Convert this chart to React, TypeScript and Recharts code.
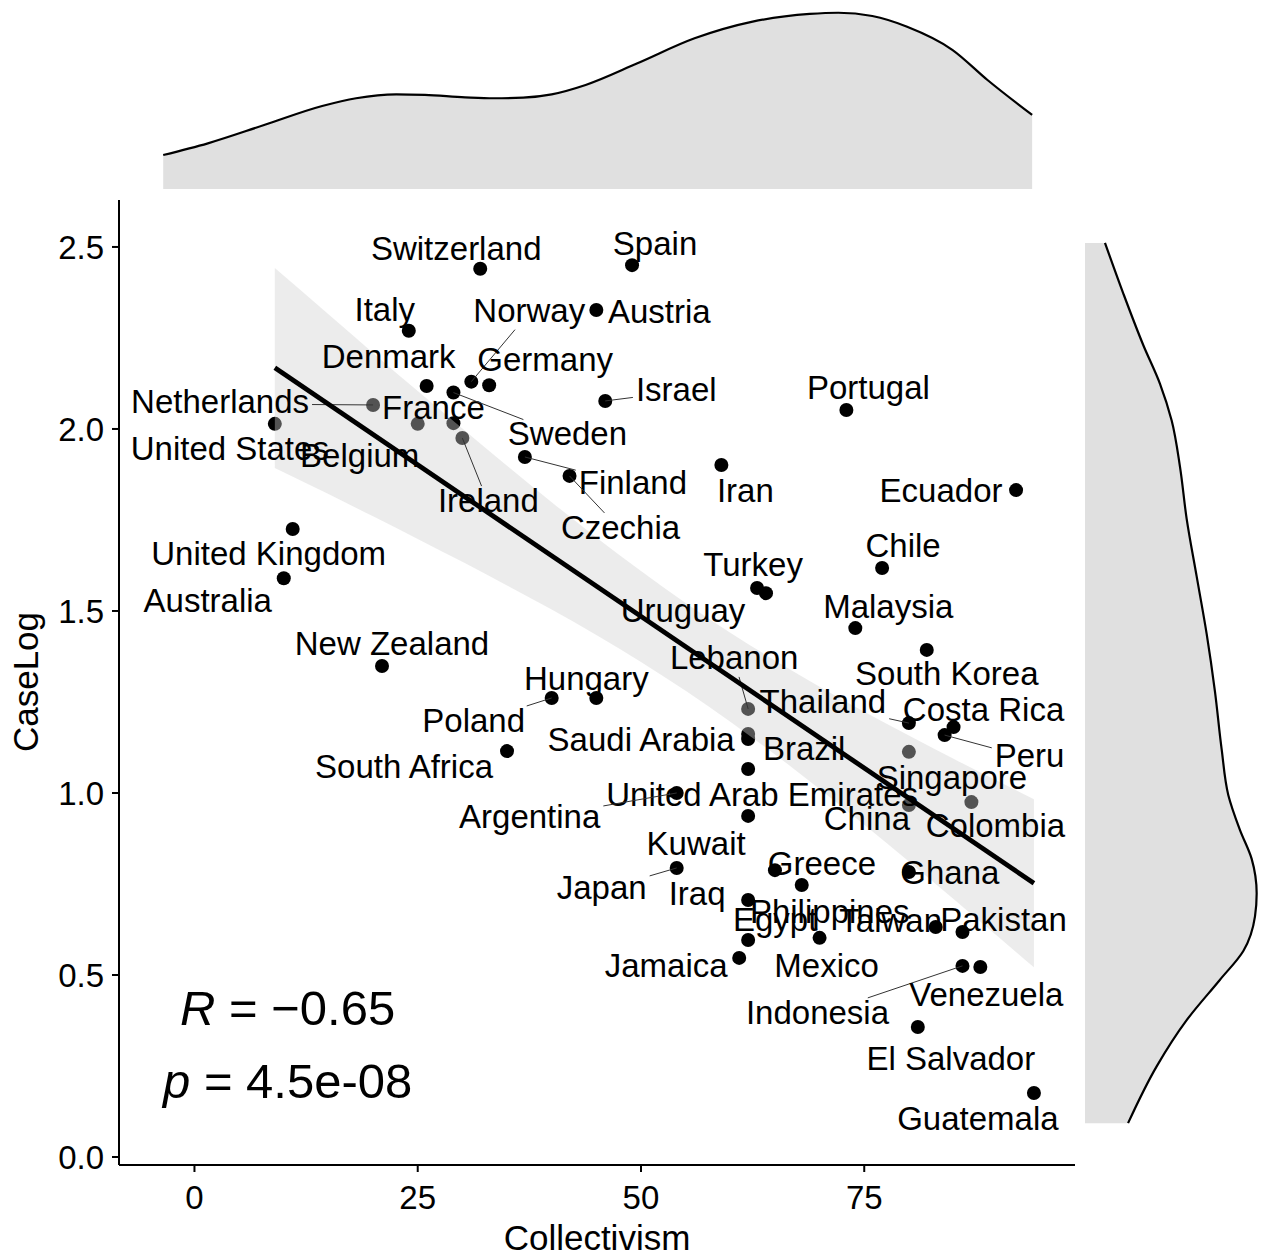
import React from "react";
import { ComposedChart, AreaChart, Area, Line, Scatter, XAxis, YAxis } from "recharts";

// ---- data ----
const countries = [
  "United States", "Netherlands", "Belgium", "France", "Ireland",
  "Switzerland", "Spain", "Italy", "Austria", "Denmark",
  "Sweden", "Norway", "Germany", "Israel", "Portugal",
  "Ecuador", "Finland", "Czechia", "Iran", "United Kingdom",
  "Australia", "Chile", "Turkey", "Uruguay", "Malaysia",
  "New Zealand", "South Korea", "Lebanon", "Poland", "Hungary",
  "Thailand", "Costa Rica", "Peru", "Saudi Arabia", "Brazil",
  "South Africa", "Singapore", "United Arab Emirates", "Argentina", "China",
  "Colombia", "Kuwait", "Greece", "Ghana", "Japan",
  "Iraq", "Philippines", "Egypt", "Taiwan", "Pakistan",
  "Jamaica", "Mexico", "Indonesia", "Venezuela", "El Salvador",
  "Guatemala",
];
const collectivism = [
  9, 20, 25, 29, 30, 32, 49, 24, 45, 26,
  29, 31, 33, 46, 73, 92, 37, 42, 59, 11,
  10, 77, 63, 64, 74, 21, 82, 62, 40, 45,
  80, 85, 84, 62, 62, 35, 80, 62, 54, 80,
  87, 62, 65, 80, 54, 62, 68, 62, 83, 86,
  61, 70, 86, 88, 81, 94,
];
const caseLog = [
  2.014, 2.066, 2.014, 2.016, 1.975, 2.44, 2.45, 2.27, 2.327, 2.118,
  2.1, 2.13, 2.12, 2.077, 2.052, 1.832, 1.923, 1.871, 1.901, 1.725,
  1.59, 1.618, 1.563, 1.549, 1.453, 1.349, 1.393, 1.231, 1.261, 1.261,
  1.192, 1.181, 1.159, 1.162, 1.148, 1.115, 1.113, 1.066, 1.0, 0.967,
  0.975, 0.937, 0.788, 0.783, 0.794, 0.706, 0.747, 0.596, 0.632, 0.618,
  0.547, 0.602, 0.525, 0.522, 0.357, 0.176,
];

// regression line and 95% band
const fitX = [9, 94];
const fitY = [2.168, 0.752];
const bandX = [9, 15, 20, 25, 30, 35, 40, 45, 50, 55, 60, 65, 70, 75, 80, 85, 90, 94];
const bandLow = [1.893, 1.821, 1.76, 1.698, 1.635, 1.57, 1.504, 1.434, 1.36, 1.281, 1.196, 1.106, 1.011, 0.913, 0.812, 0.709, 0.605, 0.521];
const bandHigh = [2.442, 2.315, 2.209, 2.104, 2.001, 1.899, 1.799, 1.702, 1.61, 1.522, 1.44, 1.364, 1.292, 1.223, 1.158, 1.094, 1.032, 0.983];

// marginal densities
const densX = [-3.5, 1.5, 7.8, 14.3, 18.1, 22.6, 25.8, 30.3, 33.5, 36.8, 40.0, 43.8, 49.6, 56.0, 62.5, 68.9, 72.1, 75.9, 79.8, 84.9, 88.8, 93.8];
const densXValue = [0.00279, 0.00375, 0.00525, 0.00681, 0.00745, 0.00777, 0.00772, 0.00753, 0.00745, 0.0075, 0.00777, 0.00854, 0.01032, 0.01237, 0.01374, 0.01437, 0.01447, 0.0142, 0.01332, 0.01141, 0.00895, 0.00608];
const densY = [2.511, 2.372, 2.23, 2.124, 2.023, 1.896, 1.753, 1.595, 1.437, 1.278, 1.12, 0.994, 0.898, 0.819, 0.724, 0.661, 0.566, 0.487, 0.376, 0.249, 0.093];
const densYValue = [0.072, 0.138, 0.21, 0.27, 0.312, 0.342, 0.366, 0.402, 0.438, 0.468, 0.492, 0.516, 0.558, 0.6, 0.618, 0.612, 0.57, 0.486, 0.366, 0.258, 0.155];

const xTicks = [0, 25, 50, 75];
const yTicks = [0, 0.5, 1, 1.5, 2, 2.5];

// ---- layout ----
const W = 1261;
const H = 1256;
const X_DOMAIN: [number, number] = [-8.45, 98.6];
const Y_DOMAIN: [number, number] = [-0.022, 2.629];
const FONT = "'Liberation Sans', Arial, Helvetica, sans-serif";
const LABEL_SIZE = 33;
const TICK_SIZE = 33;

// repelled label offsets (px from the point to the label centre)
const labelNudge: Record<string, [number, number]> = {
  "United States": [-45, 24], Netherlands: [-153, -4], Belgium: [-58, 31], France: [-20, -16],
  Ireland: [26, 62], Switzerland: [-24, -21], Spain: [23, -22], Italy: [-24, -22],
  Austria: [63, 1], Denmark: [-38, -30], Sweden: [114, 41], Norway: [58, -72],
  Germany: [56, -26], Israel: [71, -12], Portugal: [22, -23], Ecuador: [-75, 0],
  Finland: [108, 25], Czechia: [51, 51], Iran: [24, 25], "United Kingdom": [-24, 24],
  Australia: [-76, 22], Chile: [21, -23], Turkey: [-4, -24], Uruguay: [-83, 17],
  Malaysia: [33, -22], "New Zealand": [10, -23], "South Korea": [20, 23], Lebanon: [-14, -52],
  Poland: [-78, 22], Hungary: [-10, -20], Thailand: [-86, -22], "Costa Rica": [30, -18],
  Peru: [85, 20], "Saudi Arabia": [-107, 5], Brazil: [56, 9], "South Africa": [-103, 15],
  Singapore: [43, 25], "United Arab Emirates": [14, 25], Argentina: [-147, 23], China: [-42, 13],
  Colombia: [24, 23], Kuwait: [-52, 27], Greece: [47, -7], Ghana: [41, 0],
  Japan: [-75, 19], Iraq: [-51, -7], Philippines: [28, 26], Egypt: [27, -21],
  Taiwan: [-45, -7], Pakistan: [41, -13], Jamaica: [-73, 7], Mexico: [7, 27],
  Indonesia: [-145, 46], Venezuela: [6, 27], "El Salvador": [33, 31], Guatemala: [-56, 25],
};
const withSegment = [
  "Netherlands", "Ireland", "Sweden", "Norway", "Israel", "Finland", "Czechia",
  "Lebanon", "Poland", "Thailand", "Peru", "Argentina", "Japan", "Indonesia",
];

const points = countries.map((name, i) => ({ name, x: collectivism[i], y: caseLog[i] }));
const bandRows = bandX.map((x, i) => ({ x, band: [bandLow[i], bandHigh[i]] }));
const fitRows = fitX.map((x, i) => ({ x, fit: fitY[i] }));
const topDensity = densX.map((x, i) => ({ x, d: densXValue[i] }));
const rightDensity = densY.map((y, i) => ({ y, d: densYValue[i] }));

let measureCtx: CanvasRenderingContext2D | null = null;
function textWidth(s: string) {
  if (!measureCtx) measureCtx = document.createElement("canvas").getContext("2d");
  if (!measureCtx) return s.length * LABEL_SIZE * 0.55;
  measureCtx.font = `${LABEL_SIZE}px 'Liberation Sans'`;
  return measureCtx.measureText(s).width;
}

const Dot = (props: any) => <circle cx={props.cx} cy={props.cy} r={7} fill="#000" />;

const CountryLabel = (props: any) => {
  const { cx, cy, payload } = props;
  const [dx, dy] = labelNudge[payload.name] ?? [0, -25];
  const lx = cx + dx;
  const ly = cy + dy;
  let seg = null;
  if (withSegment.includes(payload.name)) {
    const hw = textWidth(payload.name) / 2 + 3;
    const hh = 17;
    const bx = lx;
    const by = ly + 3;
    const vx = cx - bx;
    const vy = cy - by;
    const t = Math.min(hw / Math.max(Math.abs(vx), 1e-6), hh / Math.max(Math.abs(vy), 1e-6));
    if (t < 1) {
      seg = <line x1={cx} y1={cy} x2={bx + vx * t} y2={by + vy * t} stroke="#333" strokeWidth={1} />;
    }
  }
  return (
    <g>
      {seg}
      <text x={lx} y={ly} dy="0.36em" textAnchor="middle" fontSize={LABEL_SIZE} fontFamily={FONT} fill="#000">
        {payload.name}
      </text>
    </g>
  );
};

const XTick = (props: any) => (
  <text x={props.x} y={props.y + 35} textAnchor="middle" fontSize={TICK_SIZE} fontFamily={FONT} fill="#000">
    {props.payload.value}
  </text>
);

const YTick = (props: any) => (
  <text x={props.x - 6} y={props.y} dy="0.36em" textAnchor="end" fontSize={TICK_SIZE} fontFamily={FONT} fill="#000">
    {Number(props.payload.value).toFixed(1)}
  </text>
);

const axisStroke = { stroke: "#000", strokeWidth: 2 };

export default function App() {
  return (
    <div style={{ position: "absolute", left: 0, top: 0, width: W, height: H, background: "#fff", overflow: "hidden" }}>
      {/* top marginal density */}
      <div style={{ position: "absolute", left: 0, top: 0 }}>
        <AreaChart width={W} height={189} data={topDensity} margin={{ top: 0, right: 186, bottom: 0, left: 119 }}>
          <XAxis type="number" dataKey="x" domain={X_DOMAIN} hide allowDataOverflow />
          <YAxis type="number" domain={[0, 0.015517]} hide allowDataOverflow />
          <Area dataKey="d" type="monotone" fill="#e0e0e0" fillOpacity={1} stroke="#000" strokeWidth={2.2} isAnimationActive={false} activeDot={false} />
        </AreaChart>
      </div>

      {/* right marginal density */}
      <div style={{ position: "absolute", left: 1085, top: 0 }}>
        <AreaChart layout="vertical" width={176} height={H} data={rightDensity} margin={{ top: 200, right: 0, bottom: 91, left: 0 }}>
          <XAxis type="number" domain={[0, 0.6336]} hide allowDataOverflow />
          <YAxis type="number" dataKey="y" domain={Y_DOMAIN} reversed hide allowDataOverflow />
          <Area dataKey="d" type="monotone" fill="#e0e0e0" fillOpacity={1} stroke="#000" strokeWidth={2.2} isAnimationActive={false} activeDot={false} />
        </AreaChart>
      </div>

      {/* main scatter */}
      <div style={{ position: "absolute", left: 0, top: 0 }}>
        <ComposedChart width={W} height={H} margin={{ top: 200, right: 186, bottom: 0, left: 0 }}>
          <XAxis
            type="number"
            dataKey="x"
            domain={X_DOMAIN}
            ticks={xTicks}
            interval={0}
            allowDataOverflow
            height={91}
            tickSize={7}
            axisLine={axisStroke}
            tickLine={axisStroke}
            tick={<XTick />}
          />
          <YAxis
            type="number"
            dataKey="y"
            domain={Y_DOMAIN}
            ticks={yTicks}
            interval={0}
            allowDataOverflow
            width={119}
            tickSize={7}
            axisLine={axisStroke}
            tickLine={axisStroke}
            tick={<YTick />}
          />
          <Scatter data={points} shape={<Dot />} isAnimationActive={false} zIndex={50} />
          <Area
            data={bandRows}
            dataKey="band"
            type="monotone"
            stroke="none"
            fill="#d0d0d0"
            fillOpacity={0.4}
            isAnimationActive={false}
            activeDot={false}
            zIndex={100}
          />
          <Scatter data={points} shape={<CountryLabel />} isAnimationActive={false} zIndex={600} />
          <Line
            data={fitRows}
            dataKey="fit"
            type="linear"
            stroke="#000"
            strokeWidth={4.8}
            dot={false}
            activeDot={false}
            isAnimationActive={false}
            zIndex={700}
          />
        </ComposedChart>
      </div>

      {/* titles and correlation annotation */}
      <svg width={W} height={H} style={{ position: "absolute", left: 0, top: 0, pointerEvents: "none" }}>
        <text x={597} y={1250} textAnchor="middle" fontSize={35} fontFamily={FONT} fill="#000">
          Collectivism
        </text>
        <text
          x={38}
          y={682}
          textAnchor="middle"
          fontSize={35}
          fontFamily={FONT}
          fill="#000"
          transform="rotate(-90 38 682)"
        >
          CaseLog
        </text>
        <text x={180} y={1025} fontSize={49} fontFamily={FONT} fill="#000">
          <tspan fontStyle="italic">R</tspan>
          <tspan> = {"\u2212"}0.65</tspan>
        </text>
        <text x={163} y={1098} fontSize={49} fontFamily={FONT} fill="#000">
          <tspan fontStyle="italic">p</tspan>
          <tspan> = 4.5e-08</tspan>
        </text>
      </svg>
    </div>
  );
}
